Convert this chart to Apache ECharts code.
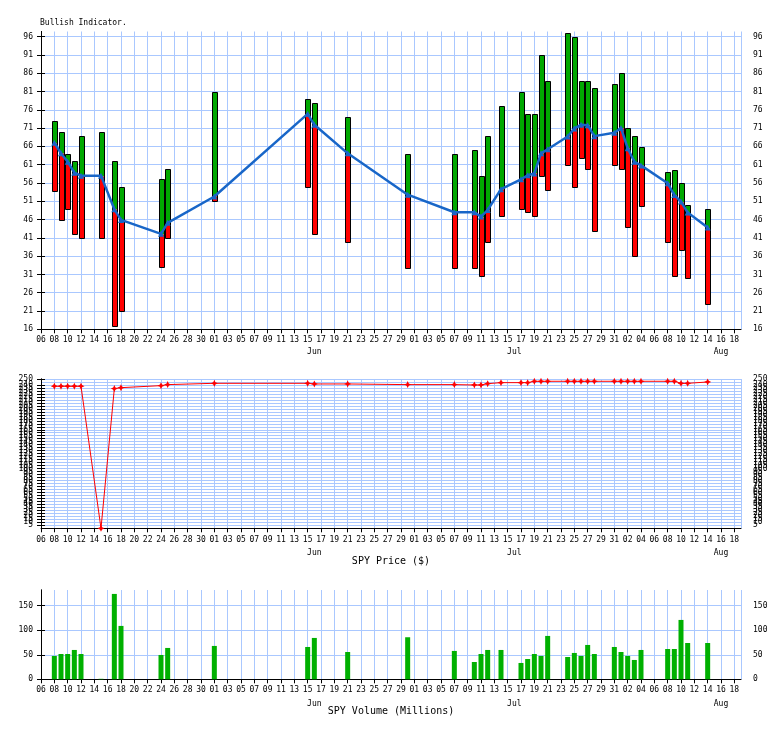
<!DOCTYPE html>
<html><head><meta charset="utf-8">
<script src="https://cdn.jsdelivr.net/npm/echarts@6/dist/echarts.min.js"></script>
<style>html,body{margin:0;padding:0;background:#fff}#c{width:784px;height:729px}</style>
</head><body><div id="c"></div>
<script>
// ---------- data ----------
const dates = ['2017-05-08','2017-05-09','2017-05-10','2017-05-11','2017-05-12','2017-05-15','2017-05-17','2017-05-18','2017-05-24','2017-05-25',
  '2017-06-01','2017-06-15','2017-06-16','2017-06-21','2017-06-30','2017-07-07','2017-07-10','2017-07-11','2017-07-12','2017-07-14',
  '2017-07-17','2017-07-18','2017-07-19','2017-07-20','2017-07-21','2017-07-24','2017-07-25','2017-07-26','2017-07-27','2017-07-28',
  '2017-07-31','2017-08-01','2017-08-02','2017-08-03','2017-08-04','2017-08-08','2017-08-09','2017-08-10','2017-08-11','2017-08-14'];
const bullHigh = [72.9,69.9,63.8,62.0,68.8,69.9,62.0,54.8,57.0,59.7,
  80.8,78.9,77.8,74.0,63.8,63.8,64.9,57.9,68.8,77.0,
  80.9,74.8,74.8,91.0,83.8,96.9,95.8,83.8,83.8,81.9,
  83.0,86.0,70.9,68.7,65.8,58.9,59.6,55.9,49.9,48.8];
const bullLine = [67.0,64.1,61.8,58.8,58.0,58.0,48.8,45.9,42.1,45.1,
  52.3,74.9,71.9,64.1,52.8,48.0,48.0,46.8,48.6,54.3,
  57.0,58.1,58.6,64.1,65.2,68.7,70.9,71.9,71.8,68.8,
  69.7,71.0,65.5,61.8,60.8,55.9,52.7,50.9,47.9,43.8];
const bullLow = [53.9,45.8,48.8,42.1,40.9,40.9,16.9,20.9,33.0,40.9,
  51.1,54.8,42.0,39.8,32.8,32.8,32.8,30.7,39.8,46.9,
  48.8,48.0,46.9,57.9,54.0,60.8,54.8,62.8,59.7,42.8,
  60.8,59.7,43.9,36.0,49.8,39.8,30.7,37.8,29.9,22.8];
const spyPrice = [237.9,237.9,237.9,237.9,237.9,0,233.9,235.5,238.9,240.6,
  242.8,242.8,241.7,241.7,240.6,240.6,240.0,240.0,242.2,243.9,
  243.9,243.9,246.2,246.2,246.2,246.2,246.2,246.2,246.2,246.2,
  246.2,246.2,246.2,246.2,246.2,246.2,246.2,242.8,242.8,245.0];
const spyVolume = [47.6,51.6,51.6,59.8,51.6,1.0,174,108.8,49.6,63.9,
  68,65.9,84.3,55.7,85.7,57.8,35.3,51.6,59.8,59.8,
  33.3,41.4,51.6,47.6,88.4,45.5,53.7,47.6,70,51.6,
  65.9,55.7,47.6,39.4,59.8,61.8,61.8,121,74,74];
const monthLabels = ['Jun','Jul','Aug'];
const monthLabelDates = ['2017-06-16','2017-07-16','2017-08-16'];
const axisStartDate = '2017-05-06';
const axisEndDate = '2017-08-19';
const titles = ['Bullish Indicator.','SPY Price ($)','SPY Volume (Millions)'];

// ---------- helpers ----------
function utc(s){const p=s.split('-').map(Number);return Date.UTC(p[0],p[1]-1,p[2]);}
const T0 = utc(axisStartDate);
function dayIdx(s){return Math.round((utc(s)-T0)/86400000);}
const XMAX = dayIdx(axisEndDate);
function dayLabel(v){const d=new Date(T0+v*86400000);return String(d.getUTCDate()).padStart(2,'0');}
const monthMap = {};
monthLabelDates.forEach((d,i)=>{monthMap[dayIdx(d)]=monthLabels[i];});

const FONT = 'DejaVu Sans Mono';
const GRIDC = '#aac8ff';
const L = 41, R = 43;

function xAxes(g, labelMargin, monthMargin){
  return [
    {type:'value', gridIndex:g, min:0, max:XMAX, interval:2, position:'bottom',
     axisLine:{show:true, onZero:false, lineStyle:{color:'#000',width:1}},
     axisTick:{show:true, length:4, lineStyle:{color:'#000'}},
     axisLabel:{margin:labelMargin, fontFamily:FONT, fontSize:8, color:'#000', formatter:dayLabel, showMaxLabel:false, hideOverlap:false},
     splitLine:{show:true, lineStyle:{color:GRIDC,width:1}}},
    {type:'value', gridIndex:g, min:0, max:XMAX, interval:1, position:'bottom',
     axisLine:{show:false}, axisTick:{show:false}, splitLine:{show:false},
     axisLabel:{margin:monthMargin, fontFamily:FONT, fontSize:8, color:'#000', formatter:v=>monthMap[v]||''}}
  ];
}
function splitColors(n){const a=[];for(let i=0;i<n;i++)a.push(GRIDC);a.push('rgba(0,0,0,0)');return a;}
function yAxes(g, min, max, interval, nTicks, showMax){
  const base = {type:'value', gridIndex:g, min:min, max:max, interval:interval,
    axisLine:{show:true, lineStyle:{color:'#000',width:1}},
    axisTick:{show:true, length:4, lineStyle:{color:'#000'}}};
  return [
    Object.assign({}, base, {position:'left',
      axisLabel:{margin:8, fontFamily:FONT, fontSize:8, color:'#000', showMaxLabel:showMax, hideOverlap:false},
      splitLine:{show:true, lineStyle:{color:splitColors(nTicks),width:1}}}),
    Object.assign({}, base, {position:'right',
      axisLabel:{margin:12, fontFamily:FONT, fontSize:8, color:'#000', showMaxLabel:showMax, hideOverlap:false},
      splitLine:{show:false}})
  ];
}

function renderBull(params, api){
  const x = api.value(0);
  const pLo = api.coord([x, api.value(1)]);
  const pMid = api.coord([x, api.value(2)]);
  const pHi = api.coord([x, api.value(3)]);
  const w = Math.round(api.size([0.8,0])[0]);
  const left = Math.round(pHi[0]-w/2)+0.5;
  const yHi = Math.round(pHi[1])+0.5, yMid = Math.round(pMid[1])+0.5, yLo = Math.round(pLo[1])+0.5;
  return {type:'group', children:[
    {type:'rect', shape:{x:left,y:yHi,width:w,height:yMid-yHi}, style:{fill:'#00a800'}},
    {type:'rect', shape:{x:left,y:yMid,width:w,height:yLo-yMid}, style:{fill:'#ff0000'}},
    {type:'rect', shape:{x:left,y:yHi,width:w,height:yLo-yHi}, style:{fill:'none',stroke:'#000',lineWidth:1}}
  ]};
}

const xs = dates.map(dayIdx);
const starPath = 'path://M5,0 L6.6,3.4 L10,5 L6.6,6.6 L5,10 L3.4,6.6 L0,5 L3.4,3.4 Z';

const option = {
  animation:false,
  backgroundColor:'#fff',
  grid:[
    {left:L, right:R, top:31.5, height:297.8},
    {left:L, right:R, top:379, height:149.3},
    {left:L, right:R, top:590, height:89.3}
  ],
  xAxis:[].concat(xAxes(0,7,19), xAxes(1,8,21), xAxes(2,7,21)),
  yAxis:[].concat(yAxes(0,16,97.4,5,17,false), yAxes(1,0,250,5,51,true), yAxes(2,0,182,50,4,false)),
  graphic:[
    {type:'text', left:40, top:19, style:{text:titles[0], font:'8px "'+FONT+'"', fill:'#000'}},
    {type:'text', x:391, y:561, style:{text:titles[1], font:'10px "'+FONT+'"', fill:'#000', textAlign:'center', textVerticalAlign:'middle'}},
    {type:'text', x:391, y:711, style:{text:titles[2], font:'10px "'+FONT+'"', fill:'#000', textAlign:'center', textVerticalAlign:'middle'}}
  ],
  series:[
    {type:'custom', xAxisIndex:0, yAxisIndex:0, renderItem:renderBull,
     encode:{x:0, y:[1,2,3]},
     data: xs.map((x,i)=>[x, bullLow[i], bullLine[i], bullHigh[i]]), z:2},
    {type:'line', xAxisIndex:0, yAxisIndex:0, data: xs.map((x,i)=>[x, bullLine[i]]),
     lineStyle:{color:'#1866c8', width:2.5}, itemStyle:{color:'#1866c8'},
     symbol:'triangle', symbolSize:6, showSymbol:true, z:5},
    {type:'line', xAxisIndex:2, yAxisIndex:2, data: xs.map((x,i)=>[x, spyPrice[i]]),
     lineStyle:{color:'#ff0000', width:1}, itemStyle:{color:'#ff0000'},
     symbol:starPath, symbolSize:7, showSymbol:true, clip:false, z:5},
    {type:'bar', xAxisIndex:4, yAxisIndex:4, data: xs.map((x,i)=>[x, spyVolume[i]]),
     barWidth:5, itemStyle:{color:'#00b000'}, z:3}
  ]
};
const chart = echarts.init(document.getElementById('c'), null, {renderer:'canvas'});
chart.setOption(option);
</script>
</body></html>
